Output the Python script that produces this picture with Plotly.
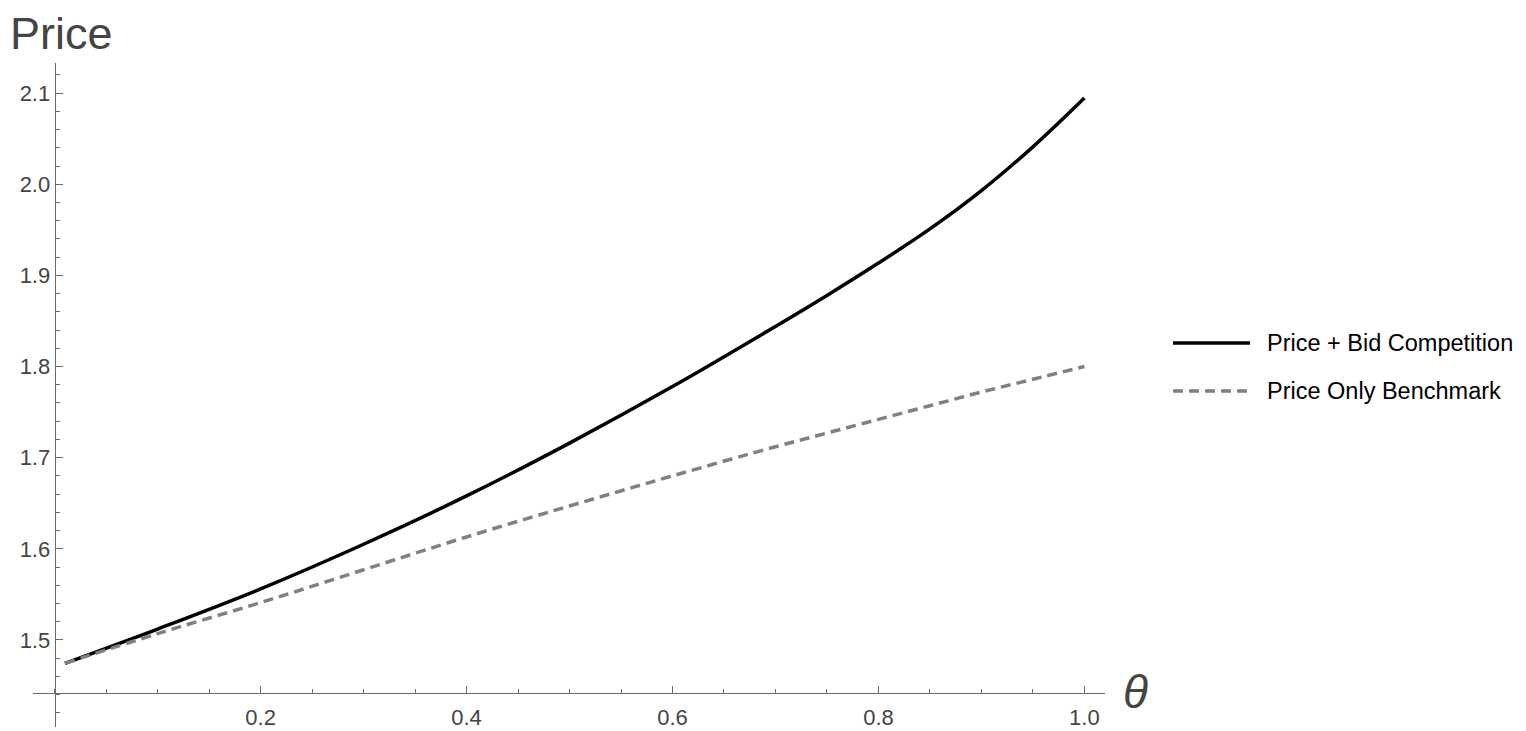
import plotly.graph_objects as go

# values
theta = [0.01, 0.1, 0.2, 0.3, 0.4, 0.5, 0.6, 0.7, 0.75, 0.8, 0.85, 0.9, 0.95, 1.0]
price_bid = [1.4744, 1.512, 1.556, 1.605, 1.658, 1.716, 1.778, 1.844, 1.878, 1.9135,
             1.951, 1.993, 2.041, 2.0945]
price_only = [1.4744, 1.507, 1.541, 1.577, 1.613, 1.647, 1.680, 1.712, 1.727, 1.742,
              1.757, 1.772, 1.786, 1.800]

x_ticks = [0.2, 0.4, 0.6, 0.8, 1.0]
y_ticks = [1.5, 1.6, 1.7, 1.8, 1.9, 2.0, 2.1]

series_names = ["Price + Bid Competition", "Price Only Benchmark"]

# the page body has an 8px margin, so the figure is laid out 8px in from the window corner
OFF = 8
W, H = 1518, 723
L, T = 33 - OFF, 63 - OFF
PLOT_W, PLOT_H = 1072, 664
R, B = W - L - PLOT_W, H - T - PLOT_H
x_range = [-0.021, 1.02]
y_range = [1.4045, 2.133]

axis_color = "#6b6b6b"
text_color = "#444444"
font = "Liberation Sans, Arial, Helvetica, sans-serif"


def px_x(px):
    # window pixel -> paper fraction
    return (px - OFF - L) / PLOT_W


def px_y(py):
    return (T + PLOT_H - (py - OFF)) / PLOT_H


fig = go.Figure()
fig.add_trace(go.Scatter(x=theta, y=price_bid, mode="lines", name=series_names[0],
                         line=dict(color="black", width=3.5, shape="spline"),
                         showlegend=False))
fig.add_trace(go.Scatter(x=theta, y=price_only, mode="lines", name=series_names[1],
                         line=dict(color="#808080", width=3.5, dash="10px,6px", shape="spline"),
                         showlegend=False))

# axes cross at theta=0 and price=1.4415 (Mathematica-style origin)
x_pos = (1.4415 - y_range[0]) / (y_range[1] - y_range[0])
y_pos = (0 - x_range[0]) / (x_range[1] - x_range[0])

fig.update_xaxes(range=x_range, anchor="free", position=x_pos,
                 showgrid=False, zeroline=False, showline=True,
                 linecolor=axis_color, linewidth=1,
                 ticks="inside", ticklen=7, tickcolor=axis_color, tickwidth=1,
                 tickmode="array", tickvals=x_ticks, ticktext=[f"{v:.1f}" for v in x_ticks],
                 tickfont=dict(size=22, color=text_color, family=font),
                 ticklabelstandoff=4,
                 minor=dict(tick0=0, dtick=0.05, ticks="inside", ticklen=4,
                            tickcolor=axis_color, tickwidth=1, showgrid=False),
                 automargin=False)
fig.update_yaxes(range=y_range, anchor="free", position=y_pos,
                 showgrid=False, zeroline=False, showline=True,
                 linecolor=axis_color, linewidth=1,
                 ticks="inside", ticklen=7, tickcolor=axis_color, tickwidth=1,
                 tickmode="array", tickvals=y_ticks, ticktext=[f"{v:.1f}" for v in y_ticks],
                 tickfont=dict(size=22, color=text_color, family=font),
                 minor=dict(tick0=1.4, dtick=0.02, ticks="inside", ticklen=4,
                            tickcolor=axis_color, tickwidth=1, showgrid=False),
                 automargin=False)

# axis labels
fig.add_annotation(text="Price", xref="paper", yref="paper", x=px_x(8), y=px_y(33),
                   xanchor="left", yanchor="middle", showarrow=False,
                   font=dict(size=45, color=text_color, family=font))
fig.add_annotation(text="<i>θ</i>", xref="paper", yref="paper", x=px_x(1135), y=px_y(692),
                   xanchor="center", yanchor="middle", showarrow=False,
                   font=dict(size=46, color=text_color, family=font))

# legend drawn by hand so the key lines match the long samples
legend_rows = [(343, "black", "solid"), (391, "#808080", "10px,6px")]
for (row_y, color, dash), name in zip(legend_rows, series_names):
    fig.add_shape(type="line", xref="paper", yref="paper",
                  x0=px_x(1173), x1=px_x(1250), y0=px_y(row_y), y1=px_y(row_y),
                  line=dict(color=color, width=3.5, dash=dash))
    fig.add_annotation(text=name, xref="paper", yref="paper", x=px_x(1265), y=px_y(row_y),
                       xanchor="left", yanchor="middle", showarrow=False,
                       font=dict(size=23.5, color="black", family=font))

fig.update_layout(width=W, height=H, margin=dict(l=L, r=R, t=T, b=B),
                  plot_bgcolor="white", paper_bgcolor="white",
                  showlegend=False)

fig.write_html("out.html")
